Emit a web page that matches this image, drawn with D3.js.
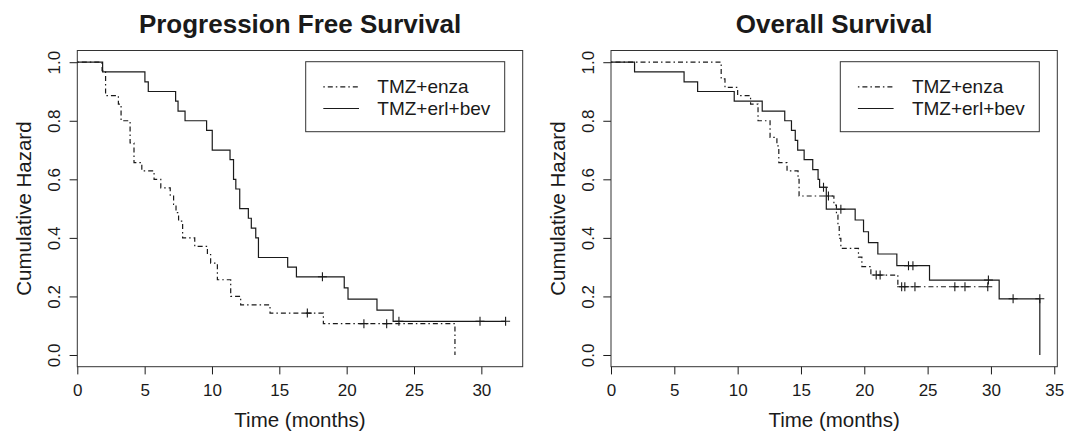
<!DOCTYPE html>
<html>
<head>
<meta charset="utf-8">
<script src="https://cdn.jsdelivr.net/npm/d3@7"></script>
<style>
    body { margin: 0; background: #fff; }
    text { font-family: "Liberation Sans", Arial, sans-serif; fill: #1a1a1a; }
</style>
</head>
<body>
<script>
//-----------------------------DATA-----------------------------//
// Progression free survival, TMZ+enza
const pfsEnzaTime = [1.84, 2.1, 3.05, 3.25, 3.92, 4.21, 4.79, 5.7, 6.2, 6.9, 7.15, 7.33, 7.52, 7.82, 8.72, 9.66, 9.9, 10.4, 11.39, 12.13, 14.31, 18.27, 28.04];
const pfsEnzaSurv = [0.971, 0.886, 0.857, 0.8, 0.724, 0.657, 0.629, 0.6, 0.571, 0.543, 0.514, 0.486, 0.457, 0.4, 0.371, 0.343, 0.314, 0.257, 0.2, 0.171, 0.143, 0.107, 0];
const pfsEnzaCensor = [17.08, 21.28, 22.97];
// Progression free survival, TMZ+erl+bev
const pfsErlTime = [1.88, 5.02, 5.27, 7.3, 7.48, 8.0, 9.6, 10.02, 11.34, 11.6, 11.77, 12.06, 12.7, 12.92, 13.25, 13.45, 15.62, 16.27, 19.82, 20.1, 22.25, 23.45];
const pfsErlSurv = [0.967, 0.933, 0.9, 0.867, 0.833, 0.8, 0.767, 0.7, 0.667, 0.6, 0.567, 0.5, 0.467, 0.433, 0.4, 0.333, 0.3, 0.267, 0.229, 0.191, 0.153, 0.115];
const pfsErlCensor = [18.2, 23.88, 29.9, 31.8];
// Overall survival, TMZ+enza
const osEnzaTime = [8.7, 9.0, 10.0, 11.02, 11.61, 12.56, 13.1, 13.25, 13.9, 14.77, 14.85, 17.6, 17.8, 17.92, 18.02, 18.15, 19.54, 19.81, 20.52, 22.65];
const osEnzaSurv = [0.943, 0.914, 0.886, 0.857, 0.8, 0.743, 0.714, 0.657, 0.629, 0.6, 0.543, 0.512, 0.478, 0.444, 0.398, 0.364, 0.334, 0.302, 0.273, 0.233];
const osEnzaCensor = [17.17, 20.94, 21.25, 22.95, 23.2, 24.0, 27.15, 27.95, 29.75];
// Overall survival, TMZ+erl+bev
const osErlTime = [1.86, 5.77, 6.84, 9.73, 11.94, 13.72, 14.25, 14.55, 14.74, 15.25, 15.93, 16.35, 16.47, 17.0, 19.28, 19.94, 20.33, 21.07, 22.57, 25.15, 30.65, 33.86];
const osErlSurv = [0.967, 0.933, 0.9, 0.867, 0.833, 0.8, 0.767, 0.733, 0.7, 0.667, 0.633, 0.6, 0.573, 0.498, 0.461, 0.421, 0.384, 0.345, 0.305, 0.256, 0.192, 0];
const osErlCensor = [16.78, 18.15, 23.49, 23.84, 29.8, 31.75, 33.86];

const seriesNames = ["TMZ+enza", "TMZ+erl+bev"];
const yTicks = [0, 0.2, 0.4, 0.6, 0.8, 1.0];
const pfsXTicks = [0, 5, 10, 15, 20, 25, 30];
const osXTicks = [0, 5, 10, 15, 20, 25, 30, 35];

//---------------------------SVG--------------------------------//
const svg = d3.select("body").append("svg")
    .attr("width", 1068)
    .attr("height", 432);

const plotTop = 50.5, plotBottom = 366.7;
const ink = "#1a1a1a";
const dotdash = "1.5,3,5,3";

// survival value just before time t (for the censor marks)
function survAt(times, surv, t) {
    let s = 1;
    times.forEach((tt, i) => { if (tt < t) s = surv[i]; });
    return s;
}

function drawPanel(p) {
    const g = svg.append("g");
    const x = d3.scaleLinear().domain([0, p.xMax]).range([p.left, p.right]);
    const y = d3.scaleLinear().domain([-0.04, 1.04]).range([plotBottom, plotTop]);

    //-----------------------------AXES-----------------------------//
    const xaxis = g.append("g")
        .attr("transform", "translate(0," + plotBottom + ")")
        .call(d3.axisBottom(x).tickValues(p.xTicks).tickSize(7.7).tickPadding(9.5));
    xaxis.select(".domain").remove();
    xaxis.selectAll("line").attr("stroke", ink);
    xaxis.selectAll("text").style("font-size", "17px").attr("fill", ink);

    const yaxis = g.append("g")
        .attr("transform", "translate(" + p.left + ",0)")
        .call(d3.axisLeft(y).tickValues(yTicks).tickFormat(d3.format(".1f")).tickSize(7.7));
    yaxis.select(".domain").remove();
    yaxis.selectAll("line").attr("stroke", ink);
    yaxis.selectAll("text")
        .style("font-size", "17px")
        .attr("fill", ink)
        .attr("x", 0)
        .attr("y", -17)
        .attr("dy", null)
        .attr("text-anchor", "middle")
        .attr("transform", "rotate(-90)");

    g.append("rect")
        .attr("x", p.left).attr("y", plotTop)
        .attr("width", p.right - p.left).attr("height", plotBottom - plotTop)
        .attr("fill", "none").attr("stroke", "#333").attr("stroke-width", 1);

    //----------------------------LINES-----------------------------//
    const line = d3.line()
        .x(d => x(d[0]))
        .y(d => y(d[1]))
        .curve(d3.curveStepAfter);

    p.series.forEach((s, k) => {
        const pts = [[0, 1]].concat(s.time.map((t, i) => [t, s.surv[i]]));
        const end = d3.max([d3.max(s.time), d3.max(s.censor)]);
        if (end > pts[pts.length - 1][0]) pts.push([end, pts[pts.length - 1][1]]);
        g.append("path")
            .attr("d", line(pts))
            .attr("fill", "none")
            .attr("stroke", ink)
            .attr("stroke-width", 1.2)
            .attr("stroke-dasharray", k === 0 ? dotdash : null);

        g.append("g").selectAll("path")
            .data(s.censor)
            .enter()
            .append("path")
            .attr("d", function (t) {
                const cx = x(t), cy = y(survAt(s.time, s.surv, t));
                return "M" + (cx - 4.5) + "," + cy + "H" + (cx + 4.5) +
                    "M" + cx + "," + (cy - 4.5) + "V" + (cy + 4.5);
            })
            .attr("stroke", ink)
            .attr("stroke-width", 1.1);
    });

    //----------------------------TEXTS-----------------------------//
    const cx = (p.left + p.right) / 2;
    g.append("text")
        .attr("x", cx).attr("y", 33.3)
        .attr("text-anchor", "middle")
        .style("font-size", "26px").style("font-weight", "bold")
        .text(p.title);

    g.append("text")
        .attr("x", cx).attr("y", 427.3)
        .attr("text-anchor", "middle")
        .style("font-size", "20.5px")
        .text("Time (months)");

    g.append("text")
        .attr("transform", "translate(" + (p.left - 46) + "," + ((plotTop + plotBottom) / 2) + ") rotate(-90)")
        .attr("text-anchor", "middle")
        .style("font-size", "20.5px")
        .text("Cumulative Hazard");

    //----------------------------LEGEND----------------------------//
    const lx = p.right - 18 - 199, ly = 61.7;
    g.append("rect")
        .attr("x", lx).attr("y", ly)
        .attr("width", 199).attr("height", 70)
        .attr("fill", "#fff").attr("stroke", "#333").attr("stroke-width", 1);

    seriesNames.forEach((name, k) => {
        const by = 93.3 + k * 21.7;
        g.append("line")
            .attr("x1", lx + 17.6).attr("x2", lx + 53.3)
            .attr("y1", by - 6.5).attr("y2", by - 6.5)
            .attr("stroke", ink).attr("stroke-width", 1.2)
            .attr("stroke-dasharray", k === 0 ? dotdash : null);
        g.append("text")
            .attr("x", lx + 71.6).attr("y", by)
            .style("font-size", "19px")
            .text(name);
    });
}

drawPanel({
    title: "Progression Free Survival",
    left: 77.3, right: 522.7, xMax: 33.07, xTicks: pfsXTicks,
    series: [
        { time: pfsEnzaTime, surv: pfsEnzaSurv, censor: pfsEnzaCensor },
        { time: pfsErlTime, surv: pfsErlSurv, censor: pfsErlCensor }
    ]
});

drawPanel({
    title: "Overall Survival",
    left: 611, right: 1057.3, xMax: 35.24, xTicks: osXTicks,
    series: [
        { time: osEnzaTime, surv: osEnzaSurv, censor: osEnzaCensor },
        { time: osErlTime, surv: osErlSurv, censor: osErlCensor }
    ]
});
</script>
</body>
</html>
